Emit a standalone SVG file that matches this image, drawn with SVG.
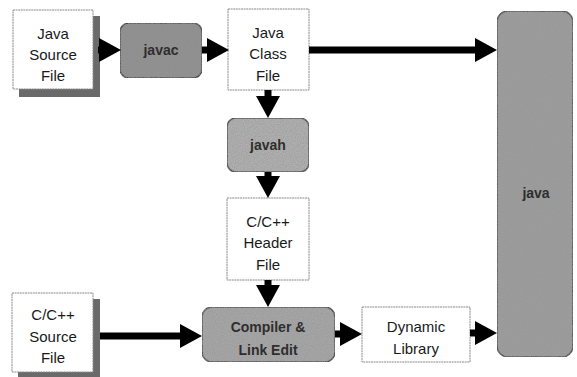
<svg xmlns="http://www.w3.org/2000/svg" width="577" height="377" viewBox="0 0 577 377">
<style>
.file{fill:#ffffff;stroke:#8a8a8a;stroke-width:1;stroke-dasharray:2 0.6}
.tool{fill:#a6a6a6;stroke:#4a4a4a;stroke-width:1.5}
.shadow{fill:#6a6a6a}
.t{font-family:"Liberation Sans",Arial,sans-serif;font-size:15px;fill:#1a1a1a;text-anchor:middle}
.tt{font-family:"Liberation Sans",Arial,sans-serif;font-size:14px;font-weight:bold;fill:#2e2e2e;text-anchor:middle}
.conn{stroke:#000;stroke-width:7;fill:none}
</style>
<defs>
<marker id="ah" markerUnits="userSpaceOnUse" markerWidth="22" markerHeight="24" refX="0" refY="12" orient="auto" viewBox="0 0 22 24">
<path d="M0,0 L22,12 L0,24 z" fill="#000"/>
</marker>
<filter id="grain" x="0" y="0" width="100%" height="100%">
<feTurbulence type="fractalNoise" baseFrequency="0.9" numOctaves="2" seed="3" result="n"/>
<feColorMatrix in="n" type="matrix" values="0 0 0 0 0.3  0 0 0 0 0.3  0 0 0 0 0.3  0 0 0 1.2 -0.35" result="g"/>
<feComposite in="g" in2="SourceGraphic" operator="atop"/>
</filter>
</defs>
<g id="java-source-file">
<rect class="shadow" x="19" y="16" width="81" height="81"/>
<rect class="file" x="13" y="10" width="80" height="79"/>
<text class="t" x="53" y="39">Java</text>
<text class="t" x="53" y="60">Source</text>
<text class="t" x="53" y="81">File</text>
</g>
<g id="javac">
<rect class="tool" x="120" y="23" width="82" height="55" rx="9" style="fill:#8e8e8e" filter="url(#grain)"/>
<text class="tt" x="161" y="55">javac</text>
</g>
<g id="java-class-file">
<rect class="file" x="228" y="9" width="81" height="81"/>
<text class="t" x="268" y="38">Java</text>
<text class="t" x="268" y="59">Class</text>
<text class="t" x="268" y="81">File</text>
</g>
<g id="javah">
<rect class="tool" x="227" y="118" width="82" height="54" rx="9" style="fill:#b0b0b0" filter="url(#grain)"/>
<text class="tt" x="268" y="150">javah</text>
</g>
<g id="cpp-header-file">
<rect class="file" x="227" y="198" width="82" height="82"/>
<text class="t" x="268" y="227">C/C++</text>
<text class="t" x="268" y="248">Header</text>
<text class="t" x="268" y="270">File</text>
</g>
<g id="cpp-source-file">
<rect class="shadow" x="18" y="299" width="82" height="78"/>
<rect class="file" x="12" y="293" width="81" height="79"/>
<text class="t" x="53" y="320">C/C++</text>
<text class="t" x="53" y="342">Source</text>
<text class="t" x="53" y="363">File</text>
</g>
<g id="compiler-link-edit">
<rect class="tool" x="202" y="307" width="133" height="55" rx="10" filter="url(#grain)"/>
<text class="tt" x="268" y="332">Compiler &amp;</text>
<text class="tt" x="268" y="355">Link Edit</text>
</g>
<g id="dynamic-library">
<rect class="file" x="362" y="307" width="108" height="55"/>
<text class="t" x="416" y="332">Dynamic</text>
<text class="t" x="416" y="354">Library</text>
</g>
<g id="java">
<rect class="tool" x="497" y="11" width="76" height="346" rx="11" style="fill:#9c9c9c" filter="url(#grain)"/>
<text class="tt" x="536" y="198">java</text>
</g>
<g id="connectors">
<line class="conn" x1="98" y1="50" x2="99" y2="50" marker-end="url(#ah)"/>
<line class="conn" x1="202" y1="50" x2="207" y2="50" marker-end="url(#ah)"/>
<line class="conn" x1="309" y1="50" x2="475" y2="50" marker-end="url(#ah)"/>
<line class="conn" x1="268" y1="90" x2="268" y2="96" marker-end="url(#ah)"/>
<line class="conn" x1="268" y1="172" x2="268" y2="176" marker-end="url(#ah)"/>
<line class="conn" x1="268" y1="280" x2="268" y2="285" marker-end="url(#ah)"/>
<line class="conn" x1="100" y1="336" x2="180" y2="336" marker-end="url(#ah)"/>
<line class="conn" x1="335" y1="334" x2="340" y2="334" marker-end="url(#ah)"/>
<line class="conn" x1="470" y1="333" x2="475" y2="333" marker-end="url(#ah)"/>
</g>
</svg>
